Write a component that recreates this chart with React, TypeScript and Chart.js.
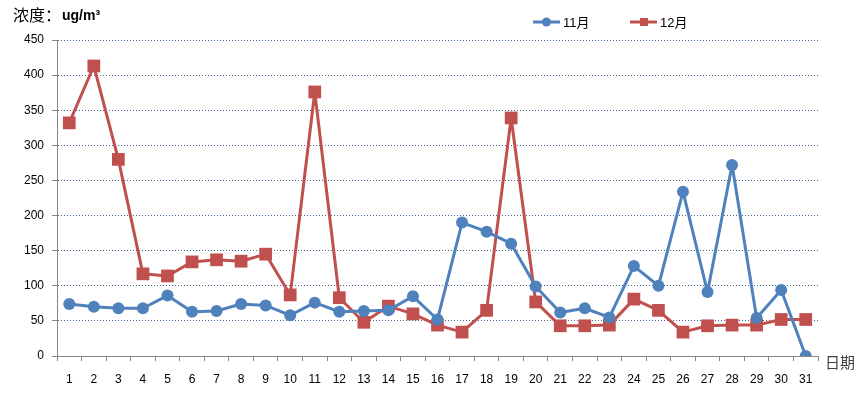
import React, { useEffect, useRef } from "react";
import { Chart, registerables } from "chart.js";

Chart.register(...registerables);

const days = ["1","2","3","4","5","6","7","8","9","10","11","12","13","14","15","16","17","18","19","20","21","22","23","24","25","26","27","28","29","30","31"];
const novValues = [74,70,68,68,86,63,64,74,72,58,76,63,64,65,85,52,190,177,160,99,62,68,55,128,100,234,91,272,54,94,0];
const decValues = [332,413,280,117,114,134,137,135,145,87,376,83,48,71,60,44,34,65,339,77,43,43,44,81,65,34,43,44,44,52,52];
const seriesNames = ["11月", "12月"];
const yTitle = "浓度：";
const yUnit = "ug/m³";
const xTitle = "日期";

const BLUE = "#4F81BD";
const RED = "#C0504D";
const FONT = "'Liberation Sans', 'Noto Sans CJK SC', sans-serif";

const decorPlugin = {
  id: "decor",
  afterDraw(chart: any) {
    const ctx = chart.ctx;
    ctx.save();
    // Title
    ctx.fillStyle = "#000";
    ctx.textBaseline = "middle";
    ctx.textAlign = "left";
    ctx.font = "16px 'Noto Sans CJK SC', sans-serif";
    ctx.fillText(yTitle, 13, 15);
    const w = ctx.measureText(yTitle).width;
    ctx.font = "bold 14px " + FONT;
    ctx.fillText(yUnit, 13 + w + 1, 16);
    // x title
    ctx.fillStyle = "#404040";
    ctx.font = "15px 'Noto Sans CJK SC', sans-serif";
    ctx.fillText(xTitle, 825, 362);
    // legend
    const items = [
      { x: 533, color: BLUE, style: "circle", label: chart.data.datasets[0].label },
      { x: 630, color: RED, style: "rect", label: chart.data.datasets[1].label },
    ];
    const ly = 22;
    items.forEach((it) => {
      ctx.strokeStyle = it.color;
      ctx.lineWidth = 3;
      ctx.beginPath();
      ctx.moveTo(it.x, ly);
      ctx.lineTo(it.x + 27, ly);
      ctx.stroke();
      ctx.fillStyle = it.color;
      if (it.style === "circle") {
        ctx.beginPath();
        ctx.arc(it.x + 13.5, ly, 4.5, 0, Math.PI * 2);
        ctx.fill();
      } else {
        ctx.fillRect(it.x + 10, ly - 4, 8, 8);
      }
      ctx.fillStyle = "#000";
      ctx.font = "13px " + FONT;
      ctx.textAlign = "left";
      ctx.fillText(it.label, it.x + 30, ly + 1);
    });
    ctx.restore();
  },
};

export default function App() {
  const ref = useRef<HTMLCanvasElement | null>(null);
  useEffect(() => {
    document.body.style.margin = "0";
    const canvas = ref.current!;
    const chart = new Chart(canvas, {
      type: "line",
      data: {
        labels: days,
        datasets: [
          {
            label: seriesNames[0],
            data: novValues,
            borderColor: BLUE,
            backgroundColor: BLUE,
            borderWidth: 3,
            borderJoinStyle: "round",
            pointStyle: "circle",
            pointRadius: 6,
            pointBorderWidth: 0,
            tension: 0,
          },
          {
            label: seriesNames[1],
            data: decValues,
            borderColor: RED,
            backgroundColor: RED,
            borderWidth: 3,
            borderJoinStyle: "round",
            pointStyle: "rect",
            pointRadius: 9,
            pointBorderWidth: 0,
            tension: 0,
          },
        ],
      },
      options: {
        animation: false,
        responsive: false,
        layout: { padding: { left: 0, right: 50, top: 40, bottom: 0 } },
        plugins: {
          legend: { display: false },
          title: { display: false },
          tooltip: { enabled: false },
        },
        scales: {
          x: {
            offset: true,
            grid: {
              display: true,
              offset: true,
              drawOnChartArea: false,
              drawTicks: true,
              tickLength: 5,
              tickColor: "#868686",
              tickWidth: 1,
            },
            border: { display: true, color: "#868686", width: 1 },
            ticks: {
              color: "#000",
              font: { family: FONT, size: 12 },
              padding: 11,
              autoSkip: false,
              maxRotation: 0,
            },
            afterFit(scale: any) {
              scale.height = 37;
            },
          },
          y: {
            min: 0,
            max: 450,
            grid: {
              color: (c: any) => (c.tick && c.tick.value === 0 ? "rgba(0,0,0,0)" : "#3F6593"),
              lineWidth: 1,
              drawTicks: true,
              tickLength: 5,
              tickColor: "#868686",
              tickBorderDash: [],
            },
            border: { display: true, color: "#868686", width: 1, dash: [1, 2] },
            ticks: {
              stepSize: 50,
              color: "#000",
              font: { family: FONT, size: 12 },
              padding: 8,
            },
            afterFit(scale: any) {
              scale.width = 57;
            },
          },
        },
      },
      plugins: [decorPlugin],
    });
    return () => chart.destroy();
  }, []);
  return <canvas ref={ref} width={868} height={393} style={{ display: "block", background: "#fff" }} />;
}
